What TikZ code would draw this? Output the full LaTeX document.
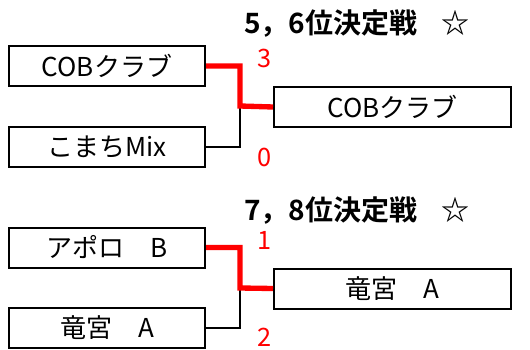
\documentclass[tikz,border=0pt]{standalone}
\usepackage{fontspec}
\setmainfont{Noto Sans CJK JP}
\newfontfamily\jpbold{Noto Sans CJK JP Bold}
\begin{document}
\begin{tikzpicture}[x=0.75pt,y=-0.75pt,
  team/.style={draw=black,line width=1.5pt,minimum width=147pt,minimum height=30pt,inner sep=0pt,font=\fontsize{19.5pt}{21pt}\selectfont},
  winbox/.style={team,minimum width=177.75pt},
  title/.style={inner sep=0pt,anchor=west,font=\jpbold\fontsize{21pt}{23pt}\selectfont},
  score/.style={inner sep=0pt,text=red,font=\fontsize{19pt}{21pt}\selectfont},
  loseline/.style={draw=black,line width=1.5pt},
  winline/.style={draw=red,line width=4pt}]
\useasboundingbox[fill=white] (0,0) rectangle (530,349);
% group 1
\node[title] (t1) at (244,24) {5，6位決定戦\hspace{0.85em}☆};
\node[team] (a1) at (107,66) {COBクラブ};
\node[team] (b1) at (107,147) {こまちMix};
\node[winbox] (w1) at (392.5,107) {COBクラブ};
\coordinate (j1) at (240,106);
\draw[loseline] (b1.east) -| (j1);
\draw[winline] (a1.east) -| (j1) -- (w1.west);
\node[score] (s1a) at (265,58) {3};
\node[score] (s1b) at (265,157) {0};
% group 2
\node[title] (t2) at (244,211) {7，8位決定戦\hspace{0.85em}☆};
\node[team] (a2) at (107,247.5) {アポロ　B};
\node[team] (b2) at (107,328) {竜宮　A};
\node[winbox] (w2) at (392.5,288.5) {竜宮　A};
\coordinate (j2) at (240,288);
\draw[loseline] (b2.east) -| (j2);
\draw[winline] (a2.east) -| (j2) -- (w2.west);
\node[score] (s2a) at (265,240) {1};
\node[score] (s2b) at (265,337) {2};
\end{tikzpicture}
\end{document}
